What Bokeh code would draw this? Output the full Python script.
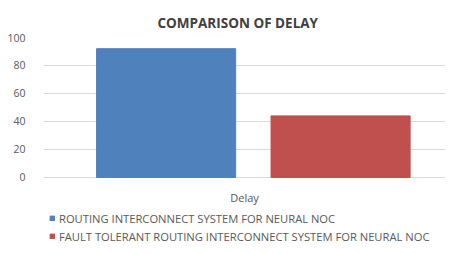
from bokeh.plotting import figure
from bokeh.models import ColumnDataSource, Legend, LegendItem, Range1d, FactorRange
from bokeh.transform import dodge
from bokeh.embed import file_html
from bokeh.resources import INLINE

categories = ["Delay"]
series_names = ["ROUTING INTERCONNECT SYSTEM FOR NEURAL NOC",
                "FAULT TOLERANT ROUTING INTERCONNECT SYSTEM FOR NEURAL NOC"]
routing_values = [92]
fault_tolerant_values = [44]
y_ticks = [0, 20, 40, 60, 80, 100]

src = ColumnDataSource(data=dict(cat=categories, a=routing_values, b=fault_tolerant_values))

FONT = "Open Sans"
GREY = "#595959"

p = figure(width=445, height=245, x_range=FactorRange(*categories), y_range=Range1d(-48.6, 100),
           output_backend="svg", toolbar_location=None,
           title="COMPARISON OF DELAY", min_border_left=43, min_border_right=0,
           min_border_top=37, min_border_bottom=0)
p.title.align = "left"
p.title.offset = 114
p.title.standoff = 12
p.title.text_font = FONT
p.title.text_font_size = "13.5px"
p.title.text_font_style = "bold"
p.title.text_color = "#404040"

r1 = p.vbar(x=dodge("cat", -0.195, range=p.x_range), top="a", width=0.346, source=src,
            fill_color="#4F81BD", line_color="#4F81BD")
r2 = p.vbar(x=dodge("cat", 0.239, range=p.x_range), top="b", width=0.346, source=src,
            fill_color="#C0504D", line_color="#C0504D")

p.outline_line_color = None
p.xgrid.grid_line_color = None
p.ygrid.grid_line_color = "#D9D9D9"
p.ygrid.ticker = y_ticks
p.yaxis.ticker = y_ticks
p.yaxis.axis_line_color = None
p.yaxis.major_tick_line_color = None
p.yaxis.minor_tick_line_color = None
p.yaxis.major_label_standoff = 12
p.yaxis.major_label_text_font = FONT
p.yaxis.major_label_text_font_size = "10.5px"
p.yaxis.major_label_text_color = GREY
p.xaxis.fixed_location = 0
p.xaxis.axis_line_color = None
p.xaxis.major_tick_line_color = None
p.xaxis.major_label_standoff = 7
p.xaxis.major_label_text_font = FONT
p.xaxis.major_label_text_font_size = "11px"
p.xaxis.major_label_text_color = GREY

legend = Legend(items=[LegendItem(label=series_names[0], renderers=[r1]),
                       LegendItem(label=series_names[1], renderers=[r2])],
                location=(6, 0), orientation="vertical",
                border_line_color=None, background_fill_alpha=0,
                glyph_width=6, glyph_height=6, label_standoff=4,
                label_height=18, spacing=0, padding=0, margin=0,
                label_text_font=FONT, label_text_font_size="11.2px", label_text_color=GREY)
p.add_layout(legend)

open("out.html", "w").write(file_html(p, INLINE))
